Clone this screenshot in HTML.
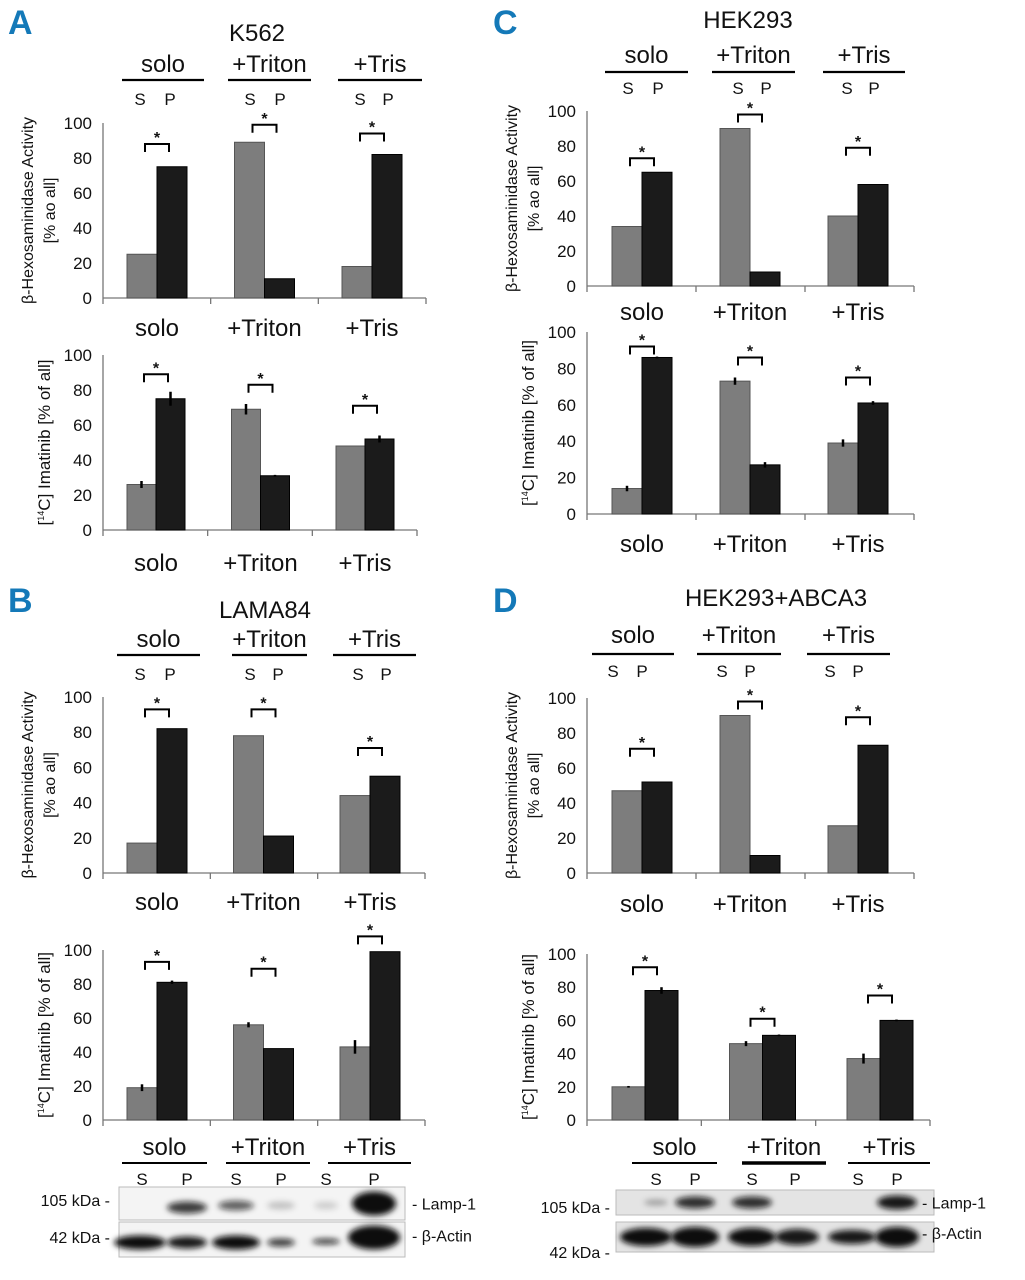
<!DOCTYPE html>
<html><head><meta charset="utf-8"><style>
html,body{margin:0;padding:0;background:#fff}
svg{display:block}
text{font-family:"Liberation Sans Narrow","Liberation Sans",sans-serif;fill:#111}
</style></head><body>
<svg id="fig" width="1025" height="1280" viewBox="0 0 1025 1280" xmlns="http://www.w3.org/2000/svg">
<defs><filter id="bl" x="-50%" y="-100%" width="200%" height="300%"><feGaussianBlur stdDeviation="3"/></filter></defs>
</svg>
<script>
const categories = ["solo","+Triton","+Tris"];
const ticks = [0,20,40,60,80,100];
// A K562
const aTopS=[25,89,18], aTopP=[75,11,82], aTopSig=[88,99,94];
const aBotS=[26,69,48], aBotP=[75,31,52], aBotErrS=[2,3,0], aBotErrP=[4,0.5,2], aBotSig=[89,83,71];
// C HEK293
const cTopS=[34,90,40], cTopP=[65,8,58], cTopSig=[73,98,79];
const cBotS=[14,73,39], cBotP=[86,27,61], cBotErrS=[1.5,2,2], cBotErrP=[0.5,1.5,1], cBotSig=[92,86,75];
// B LAMA84
const bTopS=[17,78,44], bTopP=[82,21,55], bTopSig=[93,93,71];
const bBotS=[19,56,43], bBotP=[81,42,99], bBotErrS=[2,1.5,4], bBotErrP=[1,0,0], bBotSig=[93,89,108];
// D HEK293+ABCA3
const dTopS=[47,90,27], dTopP=[52,10,73], dTopSig=[71,98,89];
const dBotS=[20,46,37], dBotP=[78,51,60], dBotErrS=[0.5,1.5,3], dBotErrP=[2,0.5,0.5], dBotSig=[92,61,75];

const NS="http://www.w3.org/2000/svg";
const svg=document.getElementById('fig');
function el(tag,attrs,parent){const e=document.createElementNS(NS,tag);for(const k in attrs)e.setAttribute(k,attrs[k]);(parent||svg).appendChild(e);return e;}
function txt(s,x,y,size,anchor,parent,extra){const t=el('text',Object.assign({x:x,y:y,'font-size':size,'text-anchor':anchor||'middle'},extra||{}),parent);t.textContent=s;return t;}

function chart(name,g,S,P,sig,errS,errP,yTitle,catY){
  const grp=el('g',{});
  
  
  const yS=v=>g.y0-(g.y0-g.y100)*v/100;
  const xC=i=>g.c0+i*g.step;
  // y tick labels
  ticks.forEach(t=>{const l=txt(String(t),g.x0-11,yS(t)+6,17,'end',grp);
    
    });
  // axes
  const ya=el('line',{x1:g.x0,y1:g.y100,x2:g.x0,y2:g.y0,stroke:'#777','stroke-width':1.3},grp);
  
  
  const xa=el('line',{x1:g.x0,y1:g.y0,x2:g.xEnd,y2:g.y0,stroke:'#777','stroke-width':1.3},grp);
  
  
  for(let k=0;k<=3;k++){const xx=g.x0+k*(g.xEnd-g.x0)/3;el('line',{x1:xx,y1:g.y0,x2:xx,y2:g.y0+6,stroke:'#777','stroke-width':1.3},grp);}
  categories.forEach((c,i)=>{
    const cx=xC(i);
    const bs=el('rect',{x:cx-g.bw,y:yS(S[i]),width:g.bw,height:g.y0-yS(S[i]),fill:'#7d7d7d',stroke:'#555','stroke-width':1},grp);
    
    
    const bp=el('rect',{x:cx,y:yS(P[i]),width:g.bw,height:g.y0-yS(P[i]),fill:'#1b1b1b',stroke:'#000','stroke-width':1},grp);
    
    
    if(errS){
      [[cx-g.bw/2,S[i],errS[i]],[cx+g.bw/2,P[i],errP[i]]].forEach(a=>{
        if(a[2]>0){const e=el('line',{x1:a[0],y1:yS(a[1]+a[2]),x2:a[0],y2:yS(a[1]-a[2]),stroke:'#000','stroke-width':2.5},grp);
        
        }
      });
    }
    // significance bracket
    const by=yS(sig[i]);
    const br=el('path',{d:`M${cx-12},${by+8}V${by}H${cx+12}V${by+8}`,fill:'none',stroke:'#000','stroke-width':2},grp);
    
    
    txt('*',cx,by-1,16,'middle',grp,{'font-weight':'bold'});
    if(catY){const cl=txt(c,cx,catY,24,'middle',grp);
      
      }
  });
  // y title
  const mid=(g.y0+g.y100)/2;
  if(yTitle==='hex'){
    const t1=txt('β-Hexosaminidase Activity',g.x0-70,mid,16,'middle',grp,{transform:`rotate(-90 ${g.x0-70} ${mid})`});
    
    
    const t2=txt('[% ao all]',g.x0-48,mid,16,'middle',grp,{transform:`rotate(-90 ${g.x0-48} ${mid})`});
    
    
  } else {
    const t=el('text',{x:g.x0-53,y:mid,'font-size':17,'text-anchor':'middle',transform:`rotate(-90 ${g.x0-53} ${mid})`},grp);
    
    
    t.innerHTML='[<tspan font-size="9" dy="-6">14</tspan><tspan dy="6">C] Imatinib [% of all]</tspan>';
  }
}

function header(name,title,tx,ty,hy,ly,sy,lines,sp){
  const grp=el('g',{});
  
  
  if(title){const t=txt(title,tx,ty,24,'middle',grp);
    
    }
  categories.forEach((c,i)=>{
    const l=lines[i];
    const h=txt(c,(l[0]+l[1])/2,hy,24,'middle',grp);
    
    
    el('line',{x1:l[0],y1:ly,x2:l[1],y2:ly,stroke:'#000','stroke-width':2.2},grp);
    txt('S',sp[i][0],sy,17,'middle',grp);
    txt('P',sp[i][1],sy,17,'middle',grp);
  });
}
function letter(ch,x,y){const t=txt(ch,x,y,34,'start',svg,{'font-weight':'bold',style:'fill:#1479b8'});
  
  }

letter('A',8,34); letter('C',493,34); letter('B',8,612); letter('D',493,612);

// A
header('a-header','K562',257,41,72,80,105,[[122,204],[228,311],[338,422]],[[140,170],[250,280],[360,388]]);
chart('a-hexosaminidase-chart',{x0:103,xEnd:426,y0:298,y100:123,c0:157,step:107.5,bw:30},aTopS,aTopP,aTopSig,null,null,'hex',336);
chart('a-imatinib-chart',{x0:103,xEnd:417,y0:530,y100:355,c0:156,step:104.5,bw:29},aBotS,aBotP,aBotSig,aBotErrS,aBotErrP,'ima',571);
// C
header('c-header','HEK293',748,28,63,72,94,[[605,688],[712,795],[823,905]],[[628,658],[738,766],[847,874]]);
chart('c-hexosaminidase-chart',{x0:587,xEnd:914,y0:286,y100:111,c0:642,step:108,bw:30},cTopS,cTopP,cTopSig,null,null,'hex',320);
chart('c-imatinib-chart',{x0:587,xEnd:914,y0:514,y100:332,c0:642,step:108,bw:30},cBotS,cBotP,cBotSig,cBotErrS,cBotErrP,'ima',552);
// B
header('b-header','LAMA84',265,618,647,655,680,[[117,200],[232,307],[333,416]],[[140,170],[250,278],[358,386]]);
chart('b-hexosaminidase-chart',{x0:103,xEnd:425,y0:873,y100:697,c0:157,step:106.5,bw:30},bTopS,bTopP,bTopSig,null,null,'hex',910);
chart('b-imatinib-chart',{x0:103,xEnd:425,y0:1120,y100:950,c0:157,step:106.5,bw:30},bBotS,bBotP,bBotSig,bBotErrS,bBotErrP,'ima',null);
// D
header('d-header','HEK293+ABCA3',776,606,643,654,677,[[592,674],[697,781],[807,890]],[[613,642],[722,750],[830,858]]);
chart('d-hexosaminidase-chart',{x0:587,xEnd:914,y0:873,y100:698,c0:642,step:108,bw:30},dTopS,dTopP,dTopSig,null,null,'hex',912);
chart('d-imatinib-chart',{x0:587,xEnd:930,y0:1120,y100:954,c0:645,step:117.5,bw:33},dBotS,dBotP,dBotSig,dBotErrS,dBotErrP,'ima',null);

// Western blots
function blot(name,hdr,box,lampY,actY,lampBands,actBands,kdaX,kda105Y,kda42Y,lblX){
  const grp=el('g',{});
  
  
  categories.forEach((c,i)=>{
    const l=hdr.lines[i];
    txt(c,(l[0]+l[1])/2,1155,24,'middle',grp);
    el('line',{x1:l[0],y1:1163,x2:l[1],y2:1163,stroke:'#000','stroke-width':i===1&&hdr.thick?3.5:2},grp);
    txt('S',hdr.sp[i][0],1185,17,'middle',grp);
    txt('P',hdr.sp[i][1],1185,17,'middle',grp);
  });
  el('rect',{x:box[0],y:lampY[0],width:box[1]-box[0],height:lampY[1]-lampY[0],fill:hdr.bg,stroke:'#bbb','stroke-width':1},grp);
  el('rect',{x:box[0],y:actY[0],width:box[1]-box[0],height:actY[1]-actY[0],fill:hdr.bg,stroke:'#bbb','stroke-width':1},grp);
  lampBands.forEach(b=>el('ellipse',{cx:b[0],cy:(lampY[0]+lampY[1])/2+b[3],rx:b[1],ry:b[2],fill:'#111','fill-opacity':b[4],filter:'url(#bl)'},grp));
  actBands.forEach(b=>el('ellipse',{cx:b[0],cy:(actY[0]+actY[1])/2+b[3],rx:b[1],ry:b[2],fill:'#111','fill-opacity':b[4],filter:'url(#bl)'},grp));
  txt('105 kDa -',kdaX,kda105Y,16,'end',grp);
  txt('42 kDa -',kdaX,kda42Y,16,'end',grp);
  txt('- Lamp-1',lblX,(lampY[0]+lampY[1])/2+6,16,'start',grp);
  txt('- β-Actin',lblX,(actY[0]+actY[1])/2+2,16,'start',grp);
}
blot('b-western-blot',{lines:[[122,207],[226,310],[328,411]],sp:[[142,187],[236,281],[326,374]],bg:'#f4f4f4'},
  [119,405],[1187,1220],[1222,1257],
  [[187,20,6,4,0.8],[236,18,5,2,0.65],[281,14,4,2,0.2],[326,12,4,2,0.15],[374,22,12,0,1]],
  [[140,26,7,3,1],[187,20,6,3,0.95],[236,24,7,3,1],[281,14,4,3,0.8],[326,14,3,2,0.8],[374,26,12,-2,1]],
  110,1206,1243,412);
blot('d-western-blot',{lines:[[632,717],[742,826],[848,930]],sp:[[656,695],[752,795],[858,897]],thick:true,bg:'#e4e4e4'},
  [616,934],[1190,1215],[1222,1252],
  [[656,12,3,0,0.3],[695,20,6,0,0.85],[752,20,6,0,0.85],[897,20,7,0,0.95]],
  [[646,26,9,0,1],[695,24,10,0,1],[752,24,9,0,1],[797,22,8,0,0.95],[852,24,7,0,0.95],[897,22,10,0,1]],
  610,1213,1258,922);
</script>
</body></html>
